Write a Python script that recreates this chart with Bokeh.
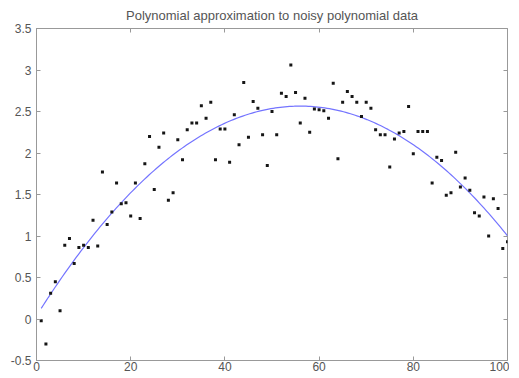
import numpy as np
from bokeh.plotting import figure
from bokeh.models import LinearAxis, FixedTicker, Range1d
from bokeh.embed import file_html
from bokeh.resources import INLINE

# data
x_vals = list(range(1, 101))
y_vals = [-0.02, -0.30, 0.31, 0.45, 0.10, 0.89, 0.97, 0.67, 0.86, 0.89,
          0.86, 1.19, 0.88, 1.77, 1.14, 1.29, 1.64, 1.39, 1.40, 1.24,
          1.64, 1.21, 1.87, 2.20, 1.56, 2.07, 2.24, 1.43, 1.52, 2.16,
          1.92, 2.28, 2.36, 2.36, 2.57, 2.42, 2.61, 1.92, 2.29, 2.29,
          1.89, 2.46, 2.10, 2.85, 2.19, 2.62, 2.54, 2.22, 1.85, 2.50,
          2.22, 2.72, 2.68, 3.06, 2.73, 2.36, 2.66, 2.25, 2.53, 2.52,
          2.51, 2.42, 2.84, 1.93, 2.61, 2.74, 2.68, 2.61, 2.44, 2.61,
          2.54, 2.28, 2.22, 2.22, 1.83, 2.17, 2.24, 2.26, 2.56, 1.99,
          2.26, 2.26, 2.26, 1.64, 1.95, 1.91, 1.49, 1.52, 2.01, 1.59,
          1.70, 1.55, 1.28, 1.24, 1.47, 1.00, 1.45, 1.33, 0.85, 0.93]
x_ticks = [0, 20, 40, 60, 80, 100]
x_tick_labels = ["0", "20", "40", "60", "80", "100"]
y_ticks = [-0.5, 0, 0.5, 1, 1.5, 2, 2.5, 3, 3.5]
y_tick_labels = ["-0.5", "0", "0.5", "1", "1.5", "2", "2.5", "3", "3.5"]
title_text = "Polynomial approximation to noisy polynomial data"
fit_degree = 2

# polynomial fit of the data (the blue curve)
coef = np.polyfit(x_vals, y_vals, fit_degree)
xf = np.linspace(min(x_vals), max(x_vals), 200)
yf = np.polyval(coef, xf)

TXT = "#555555"
FRAME = "#999999"

p = figure(frame_width=471, frame_height=332, x_range=Range1d(0, 100), y_range=Range1d(-0.5, 3.5),
           toolbar_location=None, output_backend="svg",
           min_border_left=36, min_border_right=2, min_border_top=28, min_border_bottom=0)
p.title.text = title_text
p.title.align = "center"
p.title.text_font = "Liberation Sans"
p.title.text_font_size = "13px"
p.title.text_font_style = "normal"
p.title.text_color = TXT
p.title.standoff = 11

p.xgrid.visible = False
p.ygrid.visible = False
p.outline_line_color = FRAME
p.outline_line_width = 1
p.background_fill_color = "white"

def style_axis(ax, ticks, labels=None, show_labels=True):
    ax.ticker = FixedTicker(ticks=ticks)
    ax.major_tick_in = 4
    ax.major_tick_out = 0
    ax.minor_tick_line_color = None
    ax.major_tick_line_color = FRAME
    ax.axis_line_color = FRAME
    if labels is not None:
        ax.major_label_overrides = {t: l for t, l in zip(ticks, labels)}
    if show_labels:
        ax.major_label_text_font = "Liberation Sans"
        ax.major_label_text_font_size = "12px"
        ax.major_label_text_color = TXT
    else:
        ax.major_label_text_color = None
        ax.major_label_standoff = 0
        ax.axis_line_color = None

style_axis(p.xaxis[0], x_ticks, x_tick_labels)
p.xaxis[0].major_label_standoff = 1
style_axis(p.yaxis[0], y_ticks, y_tick_labels)
p.yaxis[0].major_label_standoff = 5

top = LinearAxis()
style_axis(top, x_ticks, show_labels=False)
p.add_layout(top, "above")
right = LinearAxis()
style_axis(right, y_ticks, show_labels=False)
p.add_layout(right, "right")

p.line(xf, yf, line_color="#7474ff", line_width=1.2)
p.scatter(x_vals, y_vals, marker="square", size=3, fill_color="#151515", line_color=None)

open("out.html", "w").write(file_html(p, INLINE))
